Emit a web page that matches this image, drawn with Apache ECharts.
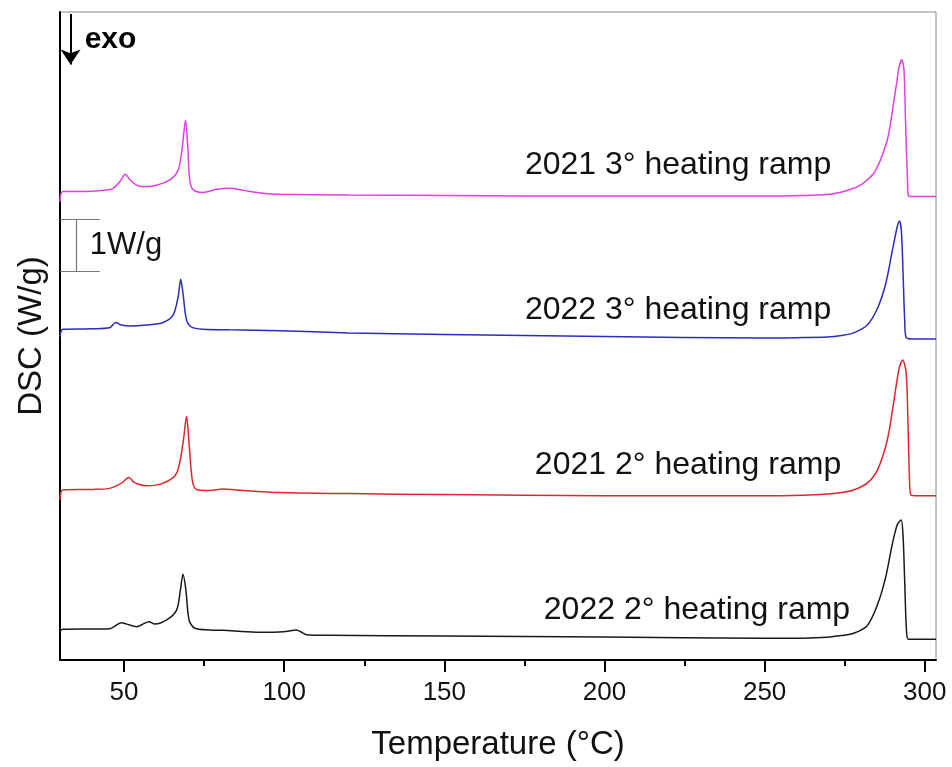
<!DOCTYPE html>
<html>
<head>
<meta charset="utf-8">
<script src="https://cdn.jsdelivr.net/npm/echarts@6/dist/echarts.min.js"></script>
<style>html,body{margin:0;padding:0;background:#fff;}#c{width:952px;height:767px;}</style>
</head>
<body>
<div id="c"></div>
<script>
// ---- Data (Temperature °C, DSC W/g with vertical offsets as plotted) ----
const majorTicks = [50, 100, 150, 200, 250, 300];
const minorTicks = [75, 125, 175, 225, 275];

const names = ['2021 3° heating ramp', '2022 3° heating ramp', '2021 2° heating ramp', '2022 2° heating ramp'];
const colors = ['#e23de6', '#2b2bc4', '#e0262b', '#1a1a1a'];

const t21r3 = [30, 30.9, 38, 45, 46.6, 48.7, 50.4, 51.8, 53.9, 55.9, 60.1, 64.3, 66.9, 68.2, 69.2, 69.9, 70.5, 71.6, 74.7, 78.9, 83, 87.2, 93.4, 98.7, 120, 150, 200, 250, 262, 269.5, 274.7, 277.8, 279.9, 282, 284.1, 285.2, 286.2, 288.3, 289.3, 290.4, 291.2, 292, 292.8, 293.5, 294, 294.6, 295, 297, 303.5];
const v21r3 = [8.81, 9.01, 9.01, 9.04, 9.07, 9.20, 9.34, 9.24, 9.13, 9.10, 9.13, 9.23, 9.42, 9.87, 10.38, 9.87, 9.23, 9.04, 8.99, 9.05, 9.07, 9.03, 8.975, 8.955, 8.94, 8.93, 8.92, 8.92, 8.93, 8.95, 9.01, 9.07, 9.13, 9.23, 9.36, 9.49, 9.62, 10.0, 10.32, 10.77, 11.09, 11.41, 11.54, 11.35, 10.33, 9.23, 8.92, 8.91, 8.91];

const t22r3 = [30, 30.9, 40, 45.5, 47.4, 49.2, 51.8, 57, 62.2, 65.3, 66.9, 67.7, 68.4, 69.5, 71.1, 74.7, 83, 98.7, 120, 150, 200, 248.7, 262, 269.5, 274, 277.8, 282, 285.2, 287.7, 289.8, 291.4, 292.1, 292.7, 293.2, 293.7, 294.2, 297, 303.5];
const v22r3 = [6.22, 6.36, 6.37, 6.39, 6.49, 6.44, 6.42, 6.44, 6.49, 6.63, 6.99, 7.32, 7.05, 6.54, 6.40, 6.36, 6.35, 6.33, 6.29, 6.26, 6.22, 6.19, 6.20, 6.21, 6.24, 6.29, 6.44, 6.76, 7.21, 7.85, 8.33, 8.44, 8.24, 7.47, 6.57, 6.20, 6.17, 6.17];

const t21r2 = [30, 30.9, 40, 45.5, 49.2, 51.5, 53.3, 57, 62.2, 66.4, 68.4, 69.5, 70.3, 71.3, 72.6, 76.8, 80.9, 85.1, 98.7, 120, 150, 200, 248.7, 262, 269.5, 274, 277.8, 282, 285.2, 288.3, 290.4, 292, 293.1, 294.2, 294.7, 295.2, 295.7, 298, 303.5];
const v21r2 = [3.08, 3.27, 3.28, 3.30, 3.40, 3.51, 3.41, 3.35, 3.40, 3.59, 4.17, 4.68, 4.17, 3.46, 3.28, 3.26, 3.29, 3.27, 3.22, 3.20, 3.18, 3.16, 3.16, 3.17, 3.19, 3.22, 3.27, 3.40, 3.65, 4.23, 5.00, 5.61, 5.77, 5.51, 4.68, 3.53, 3.17, 3.16, 3.16];

const t22r2 = [30, 30.9, 40, 45.5, 49.2, 50.8, 53.9, 57.8, 59.6, 63.3, 66.4, 67.6, 68.4, 69.3, 70.3, 72.1, 76.8, 80.9, 88.2, 93.4, 99.7, 103.9, 105.4, 107, 114.3, 150, 200, 248.7, 262, 269.5, 274, 277.8, 282, 285.2, 287.7, 289.8, 291.4, 292.6, 293.2, 293.7, 294.3, 294.9, 298, 303.5];
const v22r2 = [0.56, 0.59, 0.595, 0.60, 0.717, 0.69, 0.64, 0.737, 0.69, 0.77, 0.96, 1.35, 1.65, 1.35, 0.77, 0.61, 0.577, 0.57, 0.544, 0.533, 0.544, 0.577, 0.533, 0.487, 0.475, 0.46, 0.44, 0.417, 0.42, 0.437, 0.47, 0.513, 0.66, 1.06, 1.57, 2.21, 2.60, 2.69, 2.40, 1.57, 0.544, 0.40, 0.40, 0.40];

// label anchor (right end, vertical centre) for each curve label
const labelT = [270.8, 270.8, 273.9, 276.7];
const labelV = [9.52, 6.73, 3.75, 0.96];

// ---- Build ----
const FONT = '"Liberation Sans", Arial, Helvetica, sans-serif';
const temps = [t21r3, t22r3, t21r2, t22r2];
const vals = [v21r3, v22r3, v21r2, v22r2];

function pairs(t, v) { return t.map((x, i) => [x, v[i]]); }

const series = names.map((n, i) => ({
  name: n,
  type: 'line',
  data: pairs(temps[i], vals[i]),
  showSymbol: false,
  smooth: 0.3,
  lineStyle: { color: colors[i], width: 1.5 },
  itemStyle: { color: colors[i] },
  z: 3,
  markPoint: {
    silent: true,
    symbol: 'circle',
    symbolSize: 0,
    itemStyle: { color: 'rgba(0,0,0,0)' },
    data: [{
      coord: [labelT[i], labelV[i]],
      label: { show: true, position: 'left', distance: 0, formatter: n, color: '#111', fontSize: 32, fontFamily: FONT }
    }]
  }
}));

// annotations: exo arrow + text, scale bar
series.push({
  name: 'annot',
  type: 'line',
  data: [],
  markLine: {
    silent: true,
    animation: false,
    label: { show: false },
    data: [
      [{ coord: [33.3, 12.42], symbol: 'none', lineStyle: { color: '#000', width: 2, type: 'solid' } },
       { coord: [33.3, 11.45], symbol: 'arrow', symbolSize: 15 }],
      [{ coord: [35.2, 8.48], symbol: 'none', lineStyle: { color: '#777', width: 1.2, type: 'solid' } }, { coord: [35.2, 7.48], symbol: 'none' }],
      [{ coord: [30, 8.48], symbol: 'none', lineStyle: { color: '#777', width: 1.2, type: 'solid' } }, { coord: [42.4, 8.48], symbol: 'none' }],
      [{ coord: [30, 7.48], symbol: 'none', lineStyle: { color: '#777', width: 1.2, type: 'solid' } }, { coord: [42.4, 7.48], symbol: 'none' }]
    ]
  },
  markPoint: {
    silent: true,
    symbol: 'circle',
    symbolSize: 0,
    itemStyle: { color: 'rgba(0,0,0,0)' },
    data: [
      { coord: [37.7, 11.92], label: { show: true, position: 'right', distance: 0, formatter: 'exo', color: '#000', fontSize: 30, fontWeight: 'bold', fontFamily: FONT } },
      { coord: [39.3, 7.98], label: { show: true, position: 'right', distance: 0, formatter: '1W/g', color: '#111', fontSize: 31, fontFamily: FONT } }
    ]
  }
});

const chart = echarts.init(document.getElementById('c'), null, { renderer: 'canvas' });
chart.setOption({
  animation: false,
  backgroundColor: '#fff',
  grid: { left: 60, right: 16, top: 12, bottom: 107, show: true, borderColor: '#8a8a8a', borderWidth: 1, backgroundColor: 'transparent' },
  xAxis: [{
    type: 'value', min: 30, max: 303.5,
    name: 'Temperature (°C)', nameLocation: 'middle', nameGap: 68,
    nameTextStyle: { fontSize: 33, color: '#111', fontFamily: FONT },
    axisLine: { show: true, onZero: false, lineStyle: { color: '#000', width: 2 } },
    axisTick: { show: true, inside: false, length: 12, customValues: majorTicks, lineStyle: { color: '#000', width: 2 } },
    axisLabel: { show: true, customValues: majorTicks, margin: 20, fontSize: 26, color: '#111', fontFamily: FONT },
    splitLine: { show: false }
  }, {
    type: 'value', min: 30, max: 303.5, position: 'bottom',
    axisLine: { show: false },
    axisTick: { show: true, inside: false, length: 6, customValues: minorTicks, lineStyle: { color: '#000', width: 2 } },
    axisLabel: { show: false },
    splitLine: { show: false }
  }],
  yAxis: {
    type: 'value', min: 0, max: 12.46,
    name: 'DSC (W/g)', nameLocation: 'middle', nameGap: 12, nameRotate: 90,
    nameTextStyle: { fontSize: 33, color: '#111', fontFamily: FONT },
    axisLine: { show: true, onZero: false, lineStyle: { color: '#000', width: 2 } },
    axisTick: { show: false },
    axisLabel: { show: false },
    splitLine: { show: false }
  },
  series: series
});
</script>
</body>
</html>
